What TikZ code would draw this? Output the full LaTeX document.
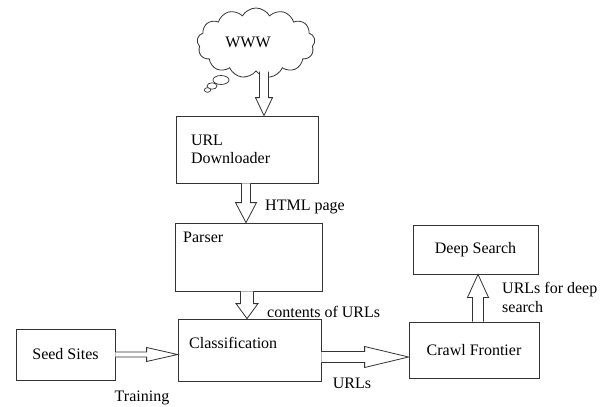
\documentclass[tikz,border=0pt]{standalone}
\usepackage{fontspec}
\setmainfont{Liberation Serif}
\usetikzlibrary{calc,shapes.symbols}

\tikzset{
	every node/.style={font=\fontsize{16}{18.5}\selectfont},
	box/.style={draw=black!80, line width=0.8pt, rectangle, inner sep=0pt},
	blockarrow/.style={draw=black!80, fill=white, line width=0.8pt, line join=miter},
	lbl/.style={inner sep=0pt, align=left}
}

% hollow block arrows: start, target, half shaft, half head, head length
\newcommand{\vblock}[5]{%
	\draw[blockarrow] let \p1=(#1), \p2=(#2) in
		({\x1-#3},\y1) -- ({\x1-#3},{\y2+(#5)}) -- ({\x1-#4},{\y2+(#5)}) -- (\x1,\y2)
		-- ({\x1+#4},{\y2+(#5)}) -- ({\x1+#3},{\y2+(#5)}) -- ({\x1+#3},\y1);}
\newcommand{\hblock}[5]{%
	\draw[blockarrow] let \p1=(#1), \p2=(#2) in
		(\x1,{\y1+#3}) -- ({\x2-#5},{\y1+#3}) -- ({\x2-#5},{\y1+#4}) -- (\x2,\y1)
		-- ({\x2-#5},{\y1-#4}) -- ({\x2-#5},{\y1-#3}) -- (\x1,{\y1-#3});}

\begin{document}
\begin{tikzpicture}[x=1pt, y=-1pt]
	\useasboundingbox (0,0) rectangle (608,407);
	
	\draw[black!80, line width=0.7pt, fill=white] (221,80) ellipse (8 and 4.5);
	\draw[black!80, line width=0.7pt, fill=white] (212,86) ellipse (5 and 3.2);
	\draw[black!80, line width=0.7pt, fill=white] (207.5,90) ellipse (3.2 and 2.3);
	\node[cloud, cloud puffs=13, cloud puff arc=120, aspect=1.7, draw=black!80, line width=0.8pt, fill=white,
		minimum width=118pt, minimum height=70pt, inner sep=0pt] (www) at (256,43) {};
	\node (wwwtxt) at (248,42) {WWW};
	
	\node[box, minimum width=142pt, minimum height=67pt, text width=112pt, align=left] (dl) at (247,149.5) {URL\\Downloader};
	\node[box, minimum width=147pt, minimum height=68pt] (parser) at (248.5,257) {};
	\node[lbl, anchor=west] (parsertxt) at (183,237) {Parser};
	\node[box, minimum width=143pt, minimum height=62pt] (cls) at (249.5,350) {};
	\node[lbl, anchor=west] (clstxt) at (189,343) {Classification};
	\node[box, minimum width=99pt, minimum height=51pt] (seed) at (65.5,354.5) {Seed Sites};
	\node[box, minimum width=130pt, minimum height=56pt] (crawl) at (474,350) {Crawl Frontier};
	\node[box, minimum width=125pt, minimum height=49pt] (deep) at (475.5,249.5) {Deep Search};
	
	\vblock{$(www.south)+(8,0)$}{dl.north}{4.5pt}{8.5pt}{18pt}
	\vblock{$(dl.south)+(-1,0)$}{parser.north}{4.5pt}{10.5pt}{20pt}
	\vblock{$(parser.south)+(-1.5,0)$}{cls.north}{6.5pt}{11pt}{15pt}
	\hblock{seed.east}{cls.west}{2.5pt}{7pt}{31pt}
	\hblock{$(cls.east)+(0,7)$}{crawl.west}{5.5pt}{10.5pt}{44pt}
	\vblock{$(crawl.north)+(4,0)$}{deep.south}{5.5pt}{10.5pt}{-23pt}
	
	\node[lbl, anchor=west] (htmllbl) at (265,207) {HTML page};
	\node[lbl, anchor=west] (contlbl) at (267,312) {contents of URLs};
	\node[lbl] (trainlbl) at (142,398) {Training};
	\node[lbl] (urlslbl) at (352,383) {URLs};
	\node[lbl, anchor=west] (deeplbl) at (502,297.5) {URLs for deep\\search};
	
\end{tikzpicture}
\end{document}
